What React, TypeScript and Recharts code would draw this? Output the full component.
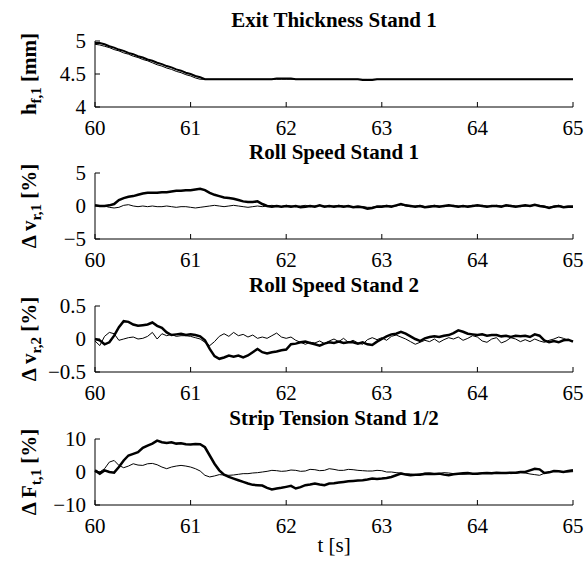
import { Line, LineChart, XAxis, YAxis } from "recharts";

const time = [
  60, 60.05, 60.1, 60.15, 60.2, 60.25, 60.3, 60.35, 60.4, 60.45, 60.5, 60.55, 60.6, 60.65, 60.7, 60.75, 60.8, 60.85, 60.9, 60.95,
  61, 61.05, 61.1, 61.15, 61.2, 61.25, 61.3, 61.35, 61.4, 61.45, 61.5, 61.55, 61.6, 61.65, 61.7, 61.75, 61.8, 61.85, 61.9, 61.95,
  62, 62.05, 62.1, 62.15, 62.2, 62.25, 62.3, 62.35, 62.4, 62.45, 62.5, 62.55, 62.6, 62.65, 62.7, 62.75, 62.8, 62.85, 62.9, 62.95,
  63, 63.05, 63.1, 63.15, 63.2, 63.25, 63.3, 63.35, 63.4, 63.45, 63.5, 63.55, 63.6, 63.65, 63.7, 63.75, 63.8, 63.85, 63.9, 63.95,
  64, 64.05, 64.1, 64.15, 64.2, 64.25, 64.3, 64.35, 64.4, 64.45, 64.5, 64.55, 64.6, 64.65, 64.7, 64.75, 64.8, 64.85, 64.9, 64.95,
  65,
];

const xTicks = [60, 61, 62, 63, 64, 65];

// exit thickness stand 1 [mm]
const hThick = [
  4.97, 4.97, 4.95, 4.92, 4.9, 4.87, 4.85, 4.82, 4.8, 4.77, 4.75, 4.72, 4.7, 4.67, 4.65, 4.62, 4.6, 4.57, 4.55, 4.52,
  4.5, 4.47, 4.45, 4.42, 4.42, 4.42, 4.42, 4.42, 4.42, 4.42, 4.42, 4.42, 4.42, 4.42, 4.42, 4.42, 4.42, 4.42, 4.43, 4.43,
  4.43, 4.43, 4.42, 4.42, 4.42, 4.42, 4.42, 4.42, 4.42, 4.42, 4.42, 4.42, 4.42, 4.42, 4.42, 4.42, 4.41, 4.41, 4.41, 4.42,
  4.42, 4.42, 4.42, 4.42, 4.42, 4.42, 4.42, 4.42, 4.42, 4.42, 4.42, 4.42, 4.42, 4.42, 4.42, 4.42, 4.42, 4.42, 4.42, 4.42,
  4.42, 4.42, 4.42, 4.42, 4.42, 4.42, 4.42, 4.42, 4.42, 4.42, 4.42, 4.42, 4.42, 4.42, 4.42, 4.42, 4.42, 4.42, 4.42, 4.42,
  4.42,
];
const hThin = [
  4.95, 4.94, 4.92, 4.9, 4.87, 4.85, 4.82, 4.8, 4.77, 4.75, 4.72, 4.7, 4.67, 4.64, 4.62, 4.59, 4.57, 4.54, 4.52, 4.49,
  4.47, 4.44, 4.42, 4.42, 4.42, 4.42, 4.42, 4.42, 4.42, 4.42, 4.42, 4.42, 4.42, 4.42, 4.42, 4.42, 4.42, 4.42, 4.42, 4.42,
  4.42, 4.42, 4.42, 4.42, 4.42, 4.42, 4.42, 4.42, 4.42, 4.42, 4.42, 4.42, 4.42, 4.42, 4.42, 4.42, 4.42, 4.42, 4.42, 4.42,
  4.42, 4.42, 4.42, 4.42, 4.42, 4.42, 4.42, 4.42, 4.42, 4.42, 4.42, 4.42, 4.42, 4.42, 4.42, 4.42, 4.42, 4.42, 4.42, 4.42,
  4.42, 4.42, 4.42, 4.42, 4.42, 4.42, 4.42, 4.42, 4.42, 4.42, 4.42, 4.42, 4.42, 4.42, 4.42, 4.42, 4.42, 4.42, 4.42, 4.42,
  4.42,
];

// roll speed stand 1 [%]
const v1Thick = [
  0.1, 0, 0, 0.1, 0.3, 0.9, 1.2, 1.4, 1.5, 1.7, 1.9, 2, 2, 2, 2.1, 2.1, 2.2, 2.3, 2.3, 2.4,
  2.4, 2.5, 2.6, 2.4, 2, 1.7, 1.5, 1.3, 1.2, 1.1, 0.9, 0.7, 0.6, 0.6, 0.7, 0.3, 0, -0.1, 0, -0.1,
  0, -0.1, 0, -0.2, -0.1, 0, -0.1, 0.1, -0.1, 0, -0.1, 0, -0.1, 0, -0.2, -0.1, -0.2, -0.4, -0.3, -0.1,
  -0.1, 0, -0.1, 0.1, 0.3, 0.1, 0, -0.1, 0, -0.2, -0.1, 0, -0.1, 0, 0.1, 0, -0.1, 0, -0.1, 0,
  0.1, 0, -0.1, 0, 0, -0.1, 0.1, 0, -0.1, 0, 0.1, 0, 0.2, 0, -0.1, -0.3, -0.1, 0, -0.2, -0.1,
  -0.1,
];
const v1Thin = [
  0.1, 0, 0, -0.2, -0.3, -0.2, 0.1, 0.2, 0, -0.1, 0, -0.1, 0, -0.1, -0.1, 0, -0.1, -0.2, -0.1, -0.1,
  -0.2, -0.3, -0.2, -0.1, 0, 0.1, 0, -0.1, 0, 0.1, 0, -0.1, -0.2, -0.1, 0, -0.1, 0, 0.1, 0, -0.1,
  0.1, 0, -0.1, 0, 0.1, -0.1, 0, 0.1, 0, -0.1, 0, 0.1, 0, -0.1, -0.1, 0, -0.1, -0.2, -0.2, 0,
  0, 0.1, 0, 0, 0.2, 0, -0.1, 0, 0.1, -0.1, 0, 0.1, 0, -0.1, 0, 0.1, 0, -0.1, 0, 0.1,
  0, 0.1, 0, -0.1, 0.1, 0, 0, 0.1, 0, -0.1, 0, 0, 0.1, 0.1, 0, -0.2, 0, 0.1, -0.1, 0,
  0,
];

// roll speed stand 2 [%]
const v2Thick = [
  0, -0.02, -0.08, -0.05, 0.05, 0.18, 0.27, 0.26, 0.22, 0.2, 0.21, 0.22, 0.25, 0.2, 0.17, 0.1, 0.06, 0.07, 0.08, 0.06,
  0.07, 0.06, 0.04, -0.02, -0.15, -0.26, -0.3, -0.28, -0.25, -0.27, -0.25, -0.28, -0.25, -0.2, -0.15, -0.2, -0.22, -0.2, -0.19, -0.17,
  -0.16, -0.08, -0.07, -0.05, -0.04, -0.06, -0.08, -0.1, -0.07, -0.05, -0.06, -0.04, -0.06, -0.05, -0.05, -0.07, -0.05, -0.08, -0.09, -0.04,
  0, 0.04, 0.07, 0.08, 0.11, 0.08, 0.04, 0, -0.03, 0.01, 0.03, 0.04, 0.03, 0.05, 0.06, 0.09, 0.13, 0.11, 0.08, 0.07,
  0.06, 0.07, 0.05, 0.06, 0.06, 0.04, 0.05, 0.03, 0.05, 0.04, 0.05, 0.03, 0.07, 0.05, -0.02, -0.05, -0.03, -0.05, -0.02, -0.01,
  -0.04,
];
const v2Thin = [
  -0.03, -0.1, 0.04, 0.1, 0.08, -0.02, 0, 0.02, 0.03, 0, 0.01, 0.04, 0.1, 0, 0.08, 0.05, 0.07, 0.04, 0.05, 0.05,
  0.04, 0.02, 0, -0.05, -0.1, -0.04, 0.04, 0.08, 0.04, 0.1, 0.05, 0.07, 0.03, 0.06, 0.01, 0.03, 0.01, 0.05, 0.09, 0.03,
  0.01, 0.03, -0.02, -0.05, -0.08, -0.05, -0.06, -0.03, -0.07, -0.03, 0, -0.04, 0.01, -0.05, -0.02, -0.06, -0.08, -0.01, 0.02, -0.01,
  0.02, -0.02, 0.04, 0.06, 0.03, 0, -0.04, -0.08, -0.05, -0.02, -0.04, 0, -0.05, -0.01, 0.02, 0, 0.03, -0.02, 0.01, 0.05,
  0.03, -0.03, -0.05, 0, 0.02, -0.06, -0.03, 0.02, 0, -0.04, -0.01, -0.04, 0, -0.03, -0.05, -0.02, 0, 0.03, 0.01, -0.02,
  -0.03,
];

// strip tension stand 1/2 [%]
const fThick = [
  0.5, -0.5, 0.5, 0, -0.2, 1.5, 3.5, 5, 5.5, 6, 7.3, 8, 8.6, 9.5, 9, 8.8, 9, 8.6, 8.7, 8.4,
  8.3, 8.5, 8.4, 7.5, 5, 2.5, 0.5, -0.8, -1.5, -2, -2.5, -3, -3.5, -3.9, -4, -4.1, -4.8, -5.3, -5, -4.8,
  -4.5, -4.2, -5, -4.6, -4, -3.8, -3.5, -3.8, -4, -3.5, -3.4, -3.2, -3, -2.8, -2.7, -2.6, -2.5, -2.3, -2, -2.1,
  -2, -1.8, -1.5, -1, -0.5, -0.8, -1, -0.8, -0.8, -0.6, -0.5, -0.6, -0.5, -0.8, -1, -0.7, -0.5, -0.4, -0.3, -0.5,
  -0.5, -0.4, -0.3, -0.4, -0.2, -0.3, -0.3, -0.2, -0.2, 0, 0, 0.5, 1, 0.8, -0.3, -0.1, 0.3, 0.2, 0, 0.3,
  0.5,
];
const fThin = [
  0.5, 0, 1, 3, 3.5, 2, 1.3, 1.8, 2.5, 2.1, 2, 2.5, 2.6, 2.2, 1.5, 1, 1.5, 1.8, 2, 1.8,
  1.5, 1, 0.3, -1, -1.5, -1.2, -0.8, -0.9, -1, -0.9, -0.7, -0.5, -0.5, -0.3, -0.2, 0, 0.2, 0.5, 0.4, 0.2,
  0.3, 0.6, 0.5, 0.2, 0.3, 0.8, 0.7, 0.4, 0.5, 1, 0.8, 0.5, 0.5, 0.8, 0.7, 0.5, 0.4, 0.3, 0.3, 0.5,
  0.4, 0, 0, -0.2, -0.3, -0.5, -0.6, -0.8, -0.6, -0.3, -0.3, -0.5, -0.4, -0.2, -0.3, -0.5, -0.6, -0.7, -0.6, -0.5,
  -0.4, -0.3, -0.4, -0.5, -0.4, -0.2, -0.3, -0.5, -0.4, -0.2, -0.3, -0.6, -0.8, -1, -0.4, 0, 0.3, 0.2, 0.1, 0,
  0.1,
];

const panels = [
  { title: "Exit Thickness Stand 1", main: "h", sub: "f,1", unit: " [mm]", ticks: [4, 4.5, 5], thick: hThick, thin: hThin, w: 2 },
  { title: "Roll Speed Stand 1", main: "\u0394 v", sub: "r,1", unit: " [%]", ticks: [-5, 0, 5], thick: v1Thick, thin: v1Thin, w: 2.5 },
  { title: "Roll Speed Stand 2", main: "\u0394 v", sub: "r,2", unit: " [%]", ticks: [-0.5, 0, 0.5], thick: v2Thick, thin: v2Thin, w: 2.5 },
  { title: "Strip Tension Stand 1/2", main: "\u0394 F", sub: "t,1", unit: " [%]", ticks: [-10, 0, 10], thick: fThick, thin: fThin, w: 2.5 },
];

const font =
  "'Liberation Serif', 'Times New Roman', Times, Tinos, 'Nimbus Roman', 'Nimbus Roman No9 L', FreeSerif, 'Noto Serif', 'DejaVu Serif', serif";
const fs = 21;
const plotTops = [41, 173, 306, 439];
const plotH = 66;
const left = 95;
const right = 573;

const fmt = (v: number) => (v < 0 ? "\u2212" + Math.abs(v) : String(v));
const txt = { fontFamily: font, fontSize: fs };

const BottomTick = (p: any) => (
  <g>
    <line x1={p.x} y1={p.y} x2={p.x} y2={p.y - 5} stroke="#000" />
    <text x={p.x} y={p.y + 28} textAnchor="middle" style={txt} fill="#000">
      {p.payload.value}
    </text>
  </g>
);
const TopTick = (p: any) => <line x1={p.x} y1={p.y} x2={p.x} y2={p.y + 5} stroke="#000" />;
const LeftTick = (p: any) => (
  <g>
    <line x1={p.x} y1={p.y} x2={p.x + 5} y2={p.y} stroke="#000" />
    <text x={p.x - 9} y={p.y + 7} textAnchor="end" style={txt} fill="#000">
      {fmt(p.payload.value)}
    </text>
  </g>
);
const RightTick = (p: any) => <line x1={p.x} y1={p.y} x2={p.x - 5} y2={p.y} stroke="#000" />;

function Panel({ idx }: { idx: number }) {
  const pn = panels[idx];
  const rows = time.map((t, i) => ({ t, a: pn.thick[i], b: pn.thin[i] }));
  const dom: [number, number] = [pn.ticks[0], pn.ticks[pn.ticks.length - 1]];
  const axis = { stroke: "#000", strokeWidth: 1 };
  return (
    <div style={{ position: "absolute", left: 0, top: plotTops[idx] - 30 }}>
      <LineChart width={584} height={30 + plotH + 37} data={rows} margin={{ top: 30, right: 584 - right, bottom: 0, left: 0 }}>
        <XAxis xAxisId="b" dataKey="t" type="number" domain={[60, 65]} ticks={xTicks} interval={0} height={37}
          tickSize={0} tickMargin={0} tickLine={false} axisLine={axis} tick={BottomTick} />
        <XAxis xAxisId="t" orientation="top" dataKey="t" type="number" domain={[60, 65]} ticks={xTicks} interval={0} height={0}
          tickSize={0} tickMargin={0} tickLine={false} axisLine={axis} tick={TopTick} />
        <YAxis yAxisId="l" type="number" domain={dom} ticks={pn.ticks} interval={0} width={left} allowDataOverflow
          tickSize={0} tickMargin={0} tickLine={false} axisLine={axis} tick={LeftTick} />
        <YAxis yAxisId="r" orientation="right" type="number" domain={dom} ticks={pn.ticks} interval={0} width={0} allowDataOverflow
          tickSize={0} tickMargin={0} tickLine={false} axisLine={axis} tick={RightTick} />
        <Line xAxisId="b" yAxisId="l" dataKey="a" stroke="#000" strokeWidth={pn.w} dot={false} isAnimationActive={false} />
        <Line xAxisId="b" yAxisId="l" dataKey="b" stroke="#000" strokeWidth={1} dot={false} isAnimationActive={false} />
      </LineChart>
    </div>
  );
}

export default function App() {
  const cx = (left + right) / 2;
  return (
    <div style={{ position: "absolute", left: 0, top: 0, width: 584, height: 564, background: "#fff" }}>
      {panels.map((_, i) => (
        <Panel key={i} idx={i} />
      ))}
      <svg width={584} height={564} style={{ position: "absolute", left: 0, top: 0, pointerEvents: "none" }}>
        {panels.map((pn, i) => {
          const top = plotTops[i];
          const mid = top + plotH / 2;
          return (
            <g key={i} style={{ fontFamily: font }} fill="#000">
              <text x={cx} y={top - 14} textAnchor="middle" style={{ ...txt, fontWeight: "bold" }}>
                {pn.title}
              </text>
              <text transform={`translate(36, ${mid}) rotate(-90)`} textAnchor="middle" style={{ ...txt, fontWeight: "bold" }}>
                {pn.main}
                <tspan style={{ fontSize: 15 }} dy={5}>{pn.sub}</tspan>
                <tspan dy={-5}>{pn.unit}</tspan>
              </text>
            </g>
          );
        })}
        <text x={cx} y={552} textAnchor="middle" style={txt} fill="#000">
          t [s]
        </text>
      </svg>
    </div>
  );
}
